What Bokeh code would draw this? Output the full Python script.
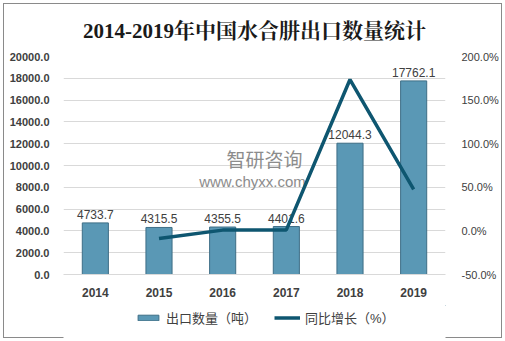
from bokeh.plotting import figure
from bokeh.models import (Range1d, LinearAxis, FixedTicker, PrintfTickFormatter, ColumnDataSource,
                          Legend, LegendItem, Label, FactorRange)
from bokeh.layouts import column
from bokeh.core.properties import value
from bokeh.embed import file_html
from bokeh.resources import INLINE

years = ["2014", "2015", "2016", "2017", "2018", "2019"]
export_tons = [4733.7, 4315.5, 4355.5, 4401.6, 12044.3, 17762.1]
growth_years = ["2015", "2016", "2017", "2018", "2019"]
growth_pct = [-8.8, 0.9, 1.1, 173.6, 47.5]
left_ticks = [0, 2000, 4000, 6000, 8000, 10000, 12000, 14000, 16000, 18000, 20000]
right_ticks = [-50, 0, 50, 100, 150, 200]
title_text = "2014-2019年中国水合肼出口数量统计"
bar_name = "出口数量（吨）"
line_name = "同比增长（%）"

SANS = "'Liberation Sans', 'Noto Sans CJK SC'"
BAR_FILL = "#5a98b5"
BAR_LINE = "#3e6e86"
LINE_COLOR = "#0e5670"

p = figure(width=505, height=305, x_range=FactorRange(*years), y_range=Range1d(0, 20000),
           output_backend="svg", toolbar_location=None,
           min_border_left=63, min_border_right=60, min_border_top=56, min_border_bottom=31)
p.extra_y_ranges = {"pct": Range1d(-50, 200)}
p.outline_line_color = None
p.background_fill_color = "white"
p.border_fill_color = None

p.title.text = title_text
p.title.align = "center"
p.title.text_font_size = "21px"
p.title.text_font_style = "bold"
p.title.text_color = "#1a1a1a"
p.title.text_font = "'Liberation Serif', 'Noto Serif CJK SC', 'Noto Sans CJK SC'"
p.title.standoff = 28

src = ColumnDataSource(dict(year=years, val=export_tons, lab=[f"{v:.1f}" for v in export_tons]))
bars = p.vbar(x="year", top="val", width=0.41, source=src,
              fill_color=BAR_FILL, line_color=BAR_LINE, line_width=1)
p.text(x="year", y="val", text="lab", source=src, text_align="center", text_baseline="bottom",
       y_offset=-4, text_font_size="12px", text_color="#404040", text_font=value("Liberation Sans"))
line = p.line(x=growth_years, y=growth_pct, y_range_name="pct", line_width=3.5, line_color=LINE_COLOR)

# axes
p.xaxis.major_label_text_font_style = "bold"
p.xaxis.major_label_text_font_size = "12px"
p.xaxis.major_label_text_color = "#404040"
p.xaxis.major_label_text_font = "Liberation Sans"
p.xaxis.axis_line_color = "#d9d9d9"
p.xaxis.major_tick_line_color = None
p.xaxis.minor_tick_line_color = None
p.xaxis.major_label_standoff = 7

p.yaxis.ticker = FixedTicker(ticks=left_ticks)
p.yaxis.formatter = PrintfTickFormatter(format="%.1f")
p.yaxis.axis_line_color = None
p.yaxis.major_tick_line_color = None
p.yaxis.minor_tick_line_color = None
p.yaxis.major_label_standoff = 8
p.yaxis.major_label_text_font_style = "bold"
p.yaxis.major_label_text_font_size = "11px"
p.yaxis.major_label_text_color = "#404040"
p.yaxis.major_label_text_font = "Liberation Sans"

ax = LinearAxis(y_range_name="pct", ticker=FixedTicker(ticks=right_ticks),
                formatter=PrintfTickFormatter(format="%.1f%%"))
ax.axis_line_color = None
ax.major_tick_line_color = None
ax.minor_tick_line_color = None
ax.major_label_standoff = 10
ax.major_label_text_font_size = "11px"
ax.major_label_text_color = "#404040"
ax.major_label_text_font = "Liberation Sans"
p.add_layout(ax, "right")

p.ygrid.ticker = FixedTicker(ticks=left_ticks)
p.ygrid.grid_line_color = "#d9d9d9"
p.xgrid.visible = False

# watermark
p.add_layout(Label(x=201, y=116, x_units="screen", y_units="screen", text="智研咨询",
                   text_align="center", text_baseline="middle", text_font_size="19px",
                   text_color="#8c8c8c", text_font="'Noto Sans CJK SC'", level="underlay"))
p.add_layout(Label(x=189, y=93, x_units="screen", y_units="screen", text="www.chyxx.com",
                   text_align="center", text_baseline="middle", text_font_size="15px",
                   text_color="#8c8c8c", text_font="Liberation Sans", level="underlay"))

# legend strip (swatches only; its dummy marks lie outside its visible range)
lg = figure(width=505, height=36, x_range=Range1d(0, 1), y_range=Range1d(0, 1),
            output_backend="svg", toolbar_location=None, x_axis_location=None, y_axis_location=None,
            min_border_left=0, min_border_right=0, min_border_top=0, min_border_bottom=0)
lg.outline_line_color = None
lg.grid.visible = False
lg.background_fill_color = "white"
lg.border_fill_color = None
dummy_bar = lg.vbar(x=[5], top=[5], bottom=[4], width=0.1,
                    fill_color=BAR_FILL, line_color=BAR_LINE, line_width=1)
dummy_line = lg.line(x=[5, 6], y=[5, 5], line_width=3.5, line_color=LINE_COLOR)
legend = Legend(items=[LegendItem(label=bar_name, renderers=[dummy_bar]),
                       LegendItem(label=line_name, renderers=[dummy_line])],
                orientation="horizontal", location=(72, 14), glyph_width=26, glyph_height=7,
                label_standoff=5, spacing=17, padding=0, margin=0, border_line_color=None,
                background_fill_alpha=0, label_text_font_size="13px", label_height=12,
                label_text_color="#404040", label_text_font=SANS)
lg.add_layout(legend)

layout = column(p, lg, spacing=0,
                styles={"outline": "1px solid #8a8a8a", "outline-offset": "-4px"})

open("out.html", "w").write(file_html(layout, INLINE))
